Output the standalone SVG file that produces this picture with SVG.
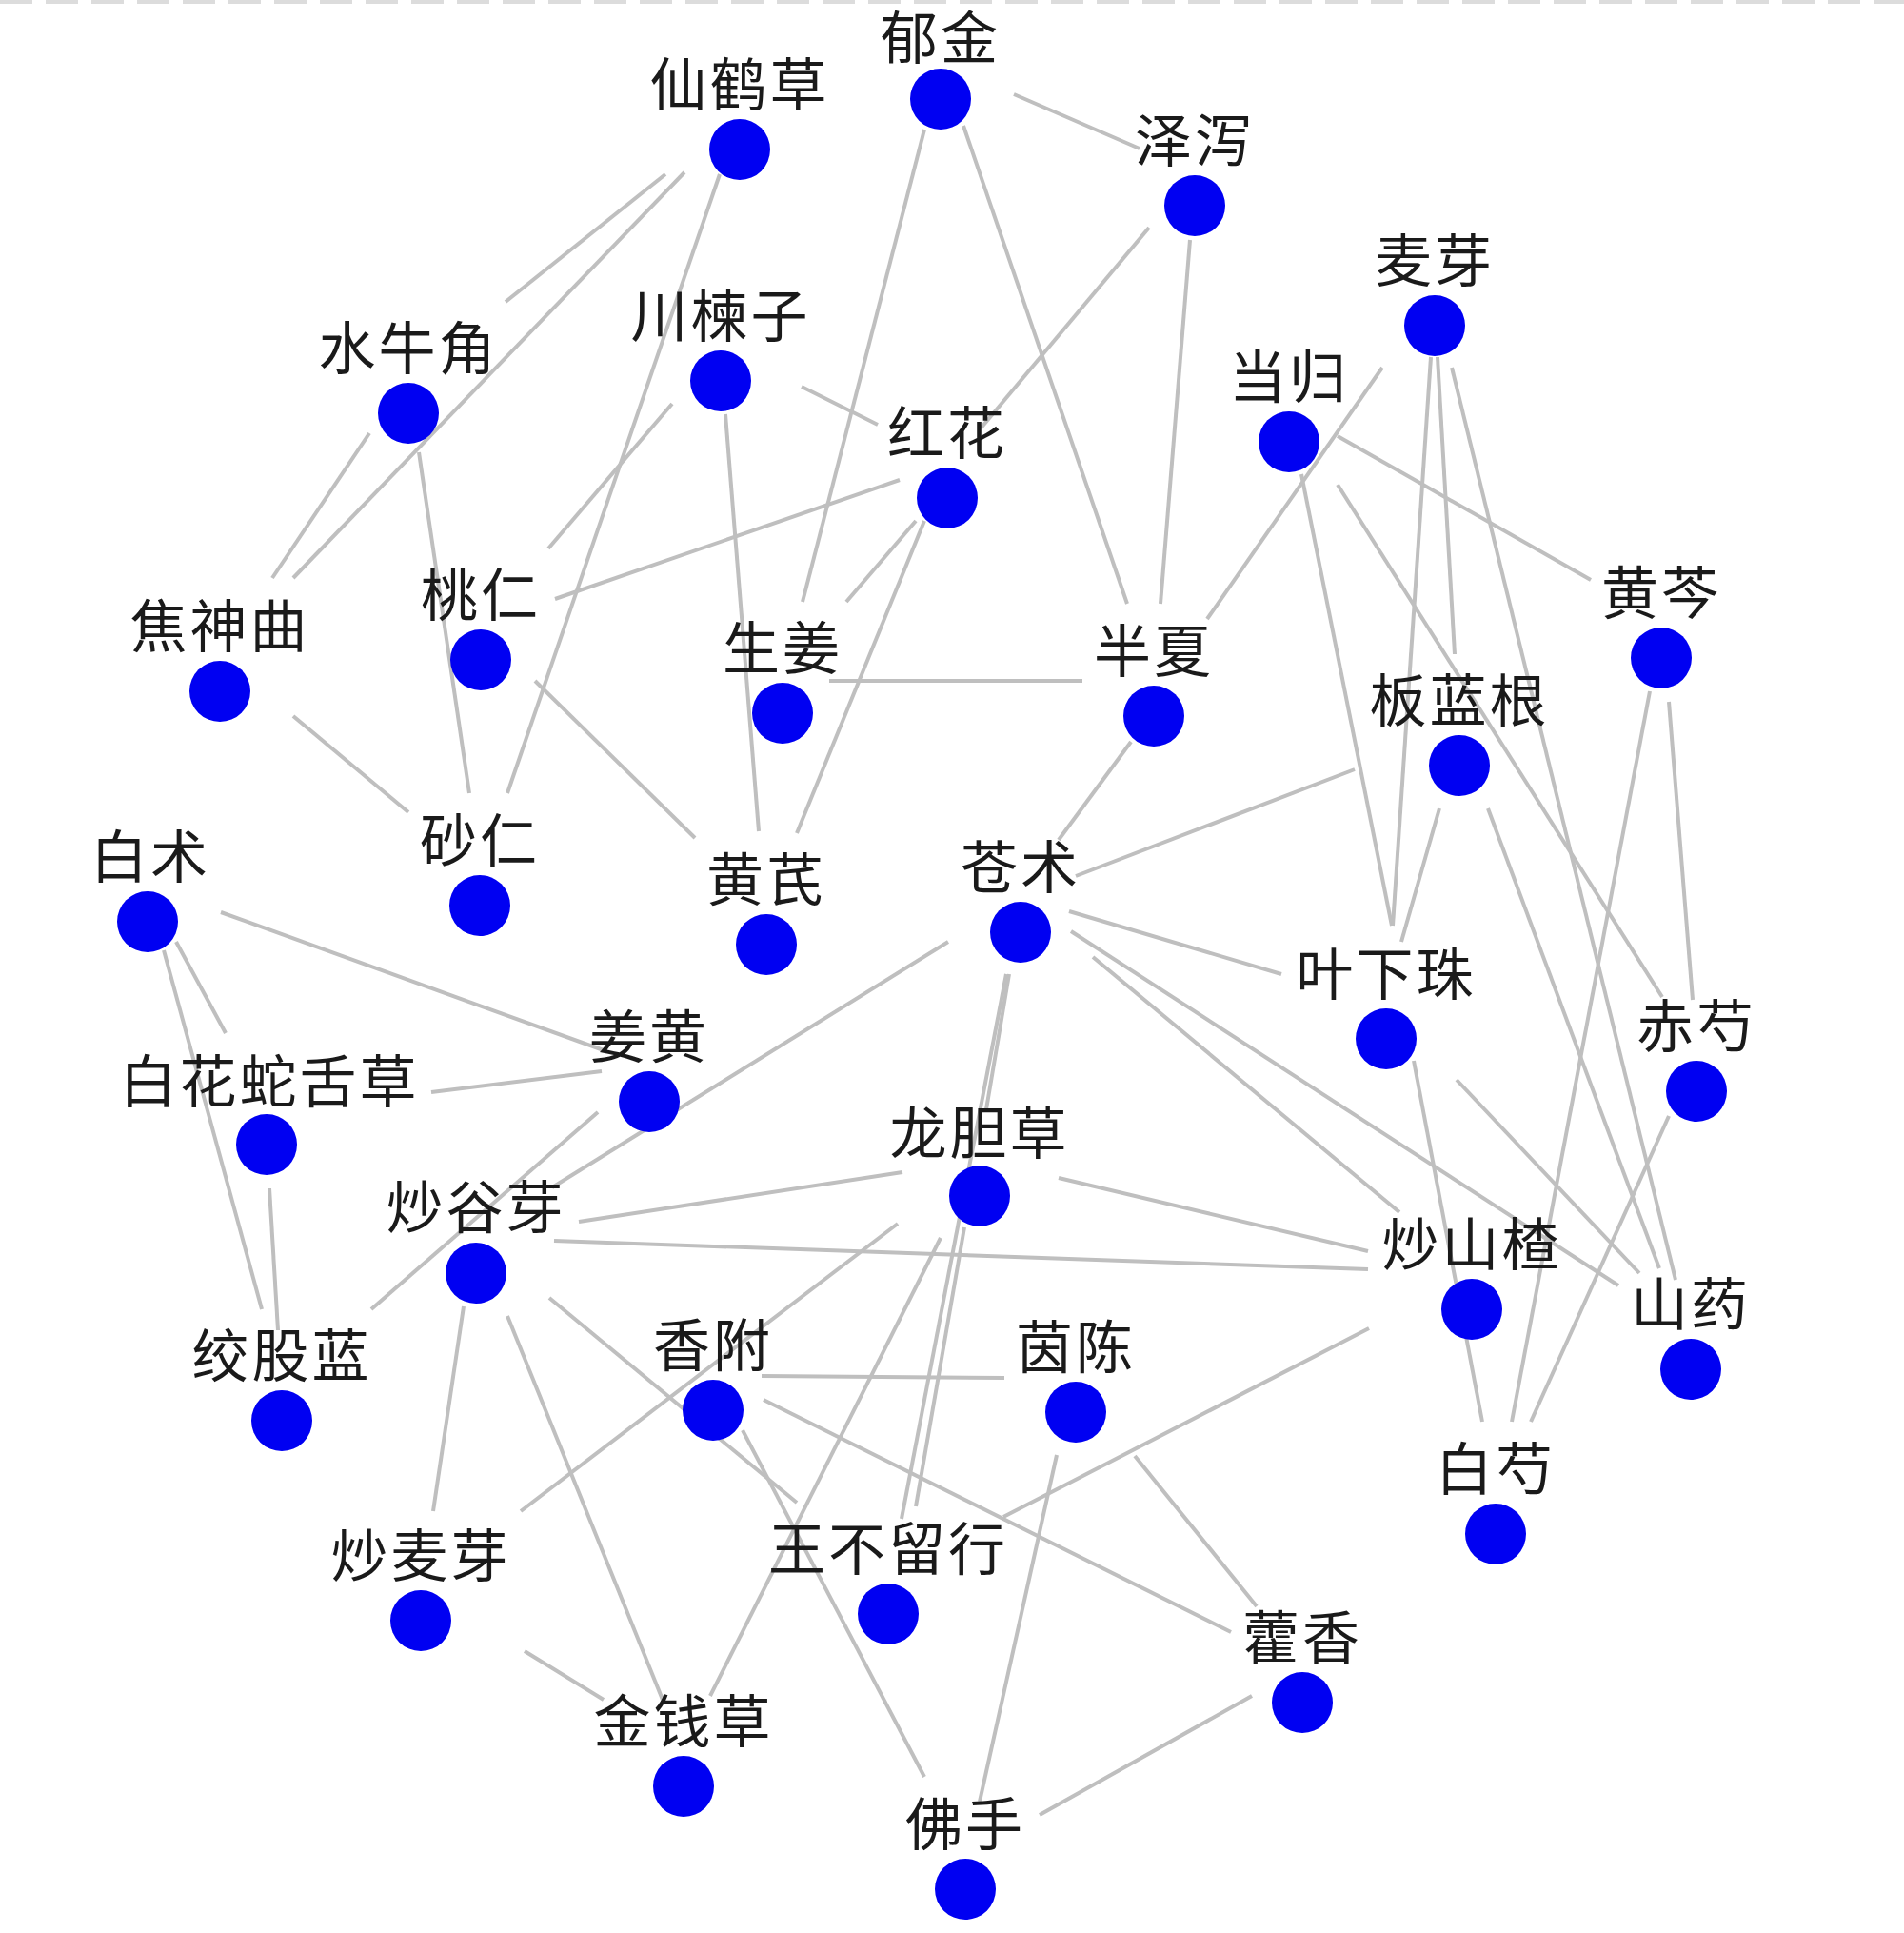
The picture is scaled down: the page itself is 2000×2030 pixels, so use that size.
<svg xmlns="http://www.w3.org/2000/svg" width="2000" height="2030" viewBox="0 0 2000 2030">
<style>
.e{stroke:#bfbfbf;stroke-width:4;fill:none;stroke-linecap:butt}
.n circle{fill:#0000f2}
.n text{font-family:"Noto Sans CJK SC","Noto Sans CJK JP",sans-serif;font-size:60px;font-weight:400;fill:#1a1a1a;text-anchor:middle;letter-spacing:3px}
</style>
<rect width="2000" height="2030" fill="#ffffff"/>
<line x1="0" y1="2" x2="2000" y2="2" stroke="#dcdcdc" stroke-width="4" stroke-dasharray="34 14"/>
<g id="edges">
<line class="e" x1="699" y1="183" x2="531" y2="317"/>
<line class="e" x1="719" y1="181" x2="308" y2="607"/>
<line class="e" x1="756" y1="183" x2="533" y2="833"/>
<line class="e" x1="388" y1="455" x2="286" y2="607"/>
<line class="e" x1="440" y1="475" x2="493" y2="833"/>
<line class="e" x1="842" y1="406" x2="922" y2="446"/>
<line class="e" x1="762" y1="435" x2="797" y2="873"/>
<line class="e" x1="706" y1="424" x2="576" y2="576"/>
<line class="e" x1="945" y1="504" x2="583" y2="629"/>
<line class="e" x1="971" y1="136" x2="843" y2="632"/>
<line class="e" x1="1012" y1="132" x2="1184" y2="634"/>
<line class="e" x1="1065" y1="99" x2="1197" y2="156"/>
<line class="e" x1="1207" y1="239" x2="1030" y2="450"/>
<line class="e" x1="1250" y1="252" x2="1219" y2="634"/>
<line class="e" x1="1452" y1="386" x2="1268" y2="650"/>
<line class="e" x1="1405" y1="458" x2="1671" y2="609"/>
<line class="e" x1="1367" y1="498" x2="1462" y2="972"/>
<line class="e" x1="1485" y1="1114" x2="1557" y2="1493"/>
<line class="e" x1="1503" y1="375" x2="1463" y2="972"/>
<line class="e" x1="1510" y1="375" x2="1528" y2="687"/>
<line class="e" x1="1525" y1="386" x2="1760" y2="1344"/>
<line class="e" x1="1563" y1="849" x2="1743" y2="1332"/>
<line class="e" x1="1405" y1="509" x2="1746" y2="1047"/>
<line class="e" x1="1512" y1="849" x2="1472" y2="989"/>
<line class="e" x1="1733" y1="726" x2="1588" y2="1493"/>
<line class="e" x1="1753" y1="737" x2="1778" y2="1050"/>
<line class="e" x1="1753" y1="1172" x2="1608" y2="1493"/>
<line class="e" x1="1530" y1="1134" x2="1722" y2="1337"/>
<line class="e" x1="1112" y1="882" x2="1188" y2="779"/>
<line class="e" x1="1130" y1="920" x2="1423" y2="808"/>
<line class="e" x1="1123" y1="957" x2="1346" y2="1023"/>
<line class="e" x1="1125" y1="978" x2="1700" y2="1350"/>
<line class="e" x1="1148" y1="1005" x2="1470" y2="1273"/>
<line class="e" x1="996" y1="989" x2="580" y2="1247"/>
<line class="e" x1="1057" y1="1023" x2="947" y2="1595"/>
<line class="e" x1="1060" y1="1023" x2="1036" y2="1165"/>
<line class="e" x1="1013" y1="1289" x2="962" y2="1582"/>
<line class="e" x1="871" y1="715" x2="1137" y2="715"/>
<line class="e" x1="889" y1="632" x2="962" y2="547"/>
<line class="e" x1="971" y1="547" x2="837" y2="875"/>
<line class="e" x1="562" y1="715" x2="730" y2="880"/>
<line class="e" x1="308" y1="752" x2="429" y2="853"/>
<line class="e" x1="232" y1="958" x2="634" y2="1103"/>
<line class="e" x1="185" y1="989" x2="237" y2="1085"/>
<line class="e" x1="172" y1="998" x2="275" y2="1375"/>
<line class="e" x1="283" y1="1248" x2="292" y2="1397"/>
<line class="e" x1="453" y1="1147" x2="632" y2="1125"/>
<line class="e" x1="628" y1="1168" x2="390" y2="1375"/>
<line class="e" x1="608" y1="1283" x2="948" y2="1231"/>
<line class="e" x1="582" y1="1303" x2="1437" y2="1333"/>
<line class="e" x1="1112" y1="1237" x2="1437" y2="1314"/>
<line class="e" x1="943" y1="1285" x2="547" y2="1587"/>
<line class="e" x1="988" y1="1300" x2="746" y2="1781"/>
<line class="e" x1="487" y1="1372" x2="455" y2="1587"/>
<line class="e" x1="533" y1="1382" x2="696" y2="1785"/>
<line class="e" x1="577" y1="1363" x2="837" y2="1578"/>
<line class="e" x1="800" y1="1445" x2="1055" y2="1447"/>
<line class="e" x1="802" y1="1470" x2="1293" y2="1714"/>
<line class="e" x1="780" y1="1502" x2="971" y2="1866"/>
<line class="e" x1="1110" y1="1528" x2="1029" y2="1892"/>
<line class="e" x1="1192" y1="1529" x2="1320" y2="1687"/>
<line class="e" x1="1438" y1="1395" x2="1054" y2="1593"/>
<line class="e" x1="1315" y1="1781" x2="1092" y2="1906"/>
<line class="e" x1="551" y1="1734" x2="634" y2="1785"/>
</g>
<g id="n-yujin" class="n"><text x="988" y="62">郁金</text><circle cx="988" cy="104" r="32"/></g>
<g id="n-xianhecao" class="n"><text x="777" y="111">仙鹤草</text><circle cx="777" cy="157" r="32"/></g>
<g id="n-zexie" class="n"><text x="1255" y="170">泽泻</text><circle cx="1255" cy="216" r="32"/></g>
<g id="n-maiya" class="n"><text x="1507" y="296">麦芽</text><circle cx="1507" cy="342" r="32"/></g>
<g id="n-danggui" class="n"><text x="1354" y="418">当归</text><circle cx="1354" cy="464" r="32"/></g>
<g id="n-chuanlianzi" class="n"><text x="757" y="354">川楝子</text><circle cx="757" cy="400" r="32"/></g>
<g id="n-shuiniujiao" class="n"><text x="429" y="388">水牛角</text><circle cx="429" cy="434" r="32"/></g>
<g id="n-honghua" class="n"><text x="995" y="477">红花</text><circle cx="995" cy="523" r="32"/></g>
<g id="n-huangqin" class="n"><text x="1745" y="645">黄芩</text><circle cx="1745" cy="691" r="32"/></g>
<g id="n-jiaoshenqu" class="n"><text x="231" y="680">焦神曲</text><circle cx="231" cy="726" r="32"/></g>
<g id="n-taoren" class="n"><text x="505" y="647">桃仁</text><circle cx="505" cy="693" r="32"/></g>
<g id="n-shengjiang" class="n"><text x="822" y="703">生姜</text><circle cx="822" cy="749" r="32"/></g>
<g id="n-banxia" class="n"><text x="1212" y="706">半夏</text><circle cx="1212" cy="752" r="32"/></g>
<g id="n-banlangen" class="n"><text x="1533" y="758">板蓝根</text><circle cx="1533" cy="804" r="32"/></g>
<g id="n-sharen" class="n"><text x="504" y="905">砂仁</text><circle cx="504" cy="951" r="32"/></g>
<g id="n-baizhu" class="n"><text x="158" y="922">白术</text><circle cx="155" cy="968" r="32"/></g>
<g id="n-huangqi" class="n"><text x="805" y="946">黄芪</text><circle cx="805" cy="992" r="32"/></g>
<g id="n-cangzhu" class="n"><text x="1072" y="933">苍术</text><circle cx="1072" cy="979" r="32"/></g>
<g id="n-yexiazhu" class="n"><text x="1456" y="1045">叶下珠</text><circle cx="1456" cy="1091" r="32"/></g>
<g id="n-chishao" class="n"><text x="1782" y="1100">赤芍</text><circle cx="1782" cy="1146" r="32"/></g>
<g id="n-jianghuang" class="n"><text x="682" y="1111">姜黄</text><circle cx="682" cy="1157" r="32"/></g>
<g id="n-baihuasheshecao" class="n"><text x="283" y="1158">白花蛇舌草</text><circle cx="280" cy="1202" r="32"/></g>
<g id="n-longdancao" class="n"><text x="1029" y="1212">龙胆草</text><circle cx="1029" cy="1256" r="32"/></g>
<g id="n-chaoguya" class="n"><text x="500" y="1290">炒谷芽</text><circle cx="500" cy="1337" r="32"/></g>
<g id="n-chaoshanzha" class="n"><text x="1546" y="1329">炒山楂</text><circle cx="1546" cy="1375" r="32"/></g>
<g id="n-shanyao" class="n"><text x="1776" y="1392">山药</text><circle cx="1776" cy="1438" r="32"/></g>
<g id="n-jiaogulan" class="n"><text x="296" y="1446">绞股蓝</text><circle cx="296" cy="1492" r="32"/></g>
<g id="n-xiangfu" class="n"><text x="749" y="1435">香附</text><circle cx="749" cy="1481" r="32"/></g>
<g id="n-yinchen" class="n"><text x="1130" y="1437">茵陈</text><circle cx="1130" cy="1483" r="32"/></g>
<g id="n-baishao" class="n"><text x="1571" y="1565">白芍</text><circle cx="1571" cy="1611" r="32"/></g>
<g id="n-chaomaiya" class="n"><text x="442" y="1656">炒麦芽</text><circle cx="442" cy="1702" r="32"/></g>
<g id="n-wangbuliuxing" class="n"><text x="933" y="1649">王不留行</text><circle cx="933" cy="1695" r="32"/></g>
<g id="n-huoxiang" class="n"><text x="1368" y="1742">藿香</text><circle cx="1368" cy="1788" r="32"/></g>
<g id="n-jinqiancao" class="n"><text x="718" y="1830">金钱草</text><circle cx="718" cy="1876" r="32"/></g>
<g id="n-foshou" class="n"><text x="1014" y="1938">佛手</text><circle cx="1014" cy="1984" r="32"/></g>
</svg>
